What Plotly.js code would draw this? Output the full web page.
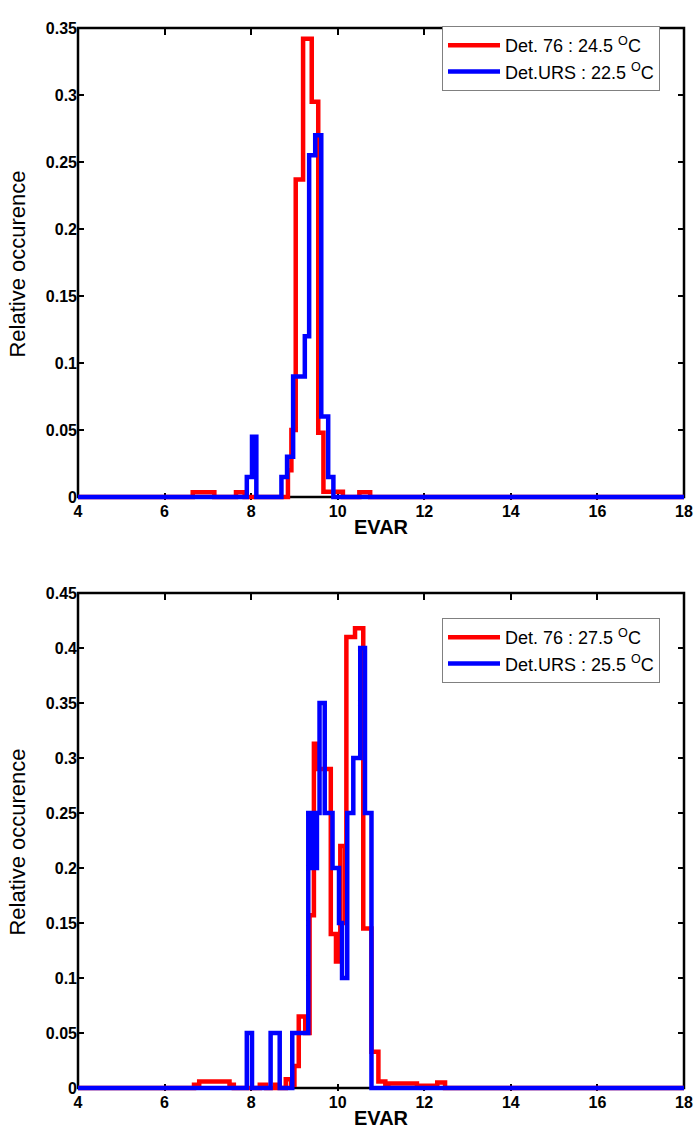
<!DOCTYPE html>
<html>
<head>
<meta charset="utf-8">
<script src="https://cdn.plot.ly/plotly-3.0.1.min.js"></script>
<style>
html,body{margin:0;padding:0;background:#ffffff;}
#chart{width:696px;height:1138px;}
</style>
</head>
<body>
<div id="chart"></div>
<script>
// ---------- data (bin edges and relative occurrence per bin) ----------
// Top panel
const top76Edges  = [4, 6.65, 7.15, 7.65, 7.85, 8.85, 8.93, 9.03, 9.2, 9.4, 9.55, 9.67, 10.12, 10.5, 10.75, 18];
const top76Values = [0, 0.0035, 0, 0.0035, 0, 0.02, 0.05, 0.237, 0.342, 0.295, 0.048, 0.004, 0, 0.0035, 0];

const topURSEdges  = [4, 7.9, 8.02, 8.12, 8.7, 8.83, 8.97, 9.24, 9.34, 9.48, 9.62, 9.78, 9.9, 18];
const topURSValues = [0, 0.015, 0.045, 0, 0.015, 0.03, 0.09, 0.12, 0.255, 0.27, 0.06, 0.015, 0];

// Bottom panel
const bot76Edges  = [4, 6.68, 6.8, 7.5, 7.6, 8.2, 8.35, 8.55, 8.65, 8.8, 8.92, 9.0, 9.1, 9.25, 9.35, 9.45, 9.55, 9.84, 9.96, 10.06, 10.17, 10.2, 10.4, 10.59, 10.78, 10.94, 11.1, 11.17, 11.83, 12.3, 12.48, 18];
const bot76Values = [0, 0.003, 0.006, 0.003, 0, 0.003, 0, 0.003, 0, 0.008, 0.003, 0.02, 0.065, 0.05, 0.157, 0.313, 0.29, 0.14, 0.115, 0.22, 0.15, 0.41, 0.418, 0.145, 0.033, 0.006, 0.002, 0.004, 0.002, 0.005, 0];

const botURSEdges  = [4, 7.9, 8.02, 8.45, 8.66, 8.95, 9.32, 9.37, 9.42, 9.47, 9.52, 9.58, 9.7, 9.88, 10.03, 10.1, 10.22, 10.36, 10.52, 10.63, 10.78, 18];
const botURSValues = [0, 0.05, 0, 0.05, 0, 0.05, 0.25, 0.2, 0.25, 0.2, 0.25, 0.35, 0.25, 0.2, 0.15, 0.1, 0.25, 0.3, 0.4, 0.25, 0];

// ticks and labels
const xTickVals   = [4, 6, 8, 10, 12, 14, 16, 18];
const xTickText   = ['4', '6', '8', '10', '12', '14', '16', '18'];
const yTopTickVals = [0, 0.05, 0.1, 0.15, 0.2, 0.25, 0.3, 0.35];
const yTopTickText = ['0', '0.05', '0.1', '0.15', '0.2', '0.25', '0.3', '0.35'];
const yBotTickVals = [0, 0.05, 0.1, 0.15, 0.2, 0.25, 0.3, 0.35, 0.4, 0.45];
const yBotTickText = ['0', '0.05', '0.1', '0.15', '0.2', '0.25', '0.3', '0.35', '0.4', '0.45'];

const topNames = ['Det. 76 : 24.5 <sup>O</sup>C', 'Det.URS : 22.5 <sup>O</sup>C'];
const botNames = ['Det. 76 : 27.5 <sup>O</sup>C', 'Det.URS : 25.5 <sup>O</sup>C'];
const xTitle = 'EVAR';
const yTitle = 'Relative occurence';

// ---------- build ----------
const RED = '#ff0000', BLUE = '#0000ff';
const FONT = 'Liberation Sans, Arial, Helvetica, sans-serif';

function stepTrace(edges, values, name, color, xa, ya, legend) {
  return {
    type: 'scatter', mode: 'lines',
    x: edges,
    y: values.concat([values[values.length - 1]]),
    line: {shape: 'hv', color: color, width: 4.5},
    name: name, xaxis: xa, yaxis: ya, legend: legend,
    hoverinfo: 'skip'
  };
}

const traces = [
  stepTrace(top76Edges, top76Values, topNames[0], RED, 'x', 'y', 'legend'),
  stepTrace(topURSEdges, topURSValues, topNames[1], BLUE, 'x', 'y', 'legend'),
  stepTrace(bot76Edges, bot76Values, botNames[0], RED, 'x2', 'y2', 'legend2'),
  stepTrace(botURSEdges, botURSValues, botNames[1], BLUE, 'x2', 'y2', 'legend2')
];

const W = 696, H = 1138, mt = 28, mb = 47, ml = 78, mr = 12;
const plotH = H - mt - mb;
function dom(pxTop, pxBot) { return [(H - mb - pxBot) / plotH, (H - mb - pxTop) / plotH]; }
const topDom = dom(28, 500), botDom = dom(593, 1091);
const topRange = [-0.00224, 0.35], botRange = [-0.00273, 0.45];

function zeroY(d, r) { return d[0] + (0 - r[0]) / (r[1] - r[0]) * (d[1] - d[0]); }

function xAxis(anchor) {
  return {
    anchor: anchor, domain: [0, 1], range: [4, 18],
    showline: false, zeroline: false, showgrid: false,
    ticks: 'inside', ticklen: 7, tickwidth: 2, tickcolor: '#000', mirror: 'ticks',
    tickvals: xTickVals, ticktext: xTickText,
    tickfont: {family: FONT, size: 16, color: '#000', weight: 'bold'},
    title: {text: xTitle, font: {family: FONT, size: 20, color: '#000', weight: 'bold'}, standoff: 0},
    layer: 'below traces', fixedrange: true
  };
}
function yAxis(anchor, d, r, tv, tt) {
  return {
    anchor: anchor, domain: d, range: r,
    showline: false, zeroline: false, showgrid: false,
    ticks: 'inside', ticklen: 6, tickwidth: 2, tickcolor: '#000', mirror: 'ticks',
    tickvals: tv, ticktext: tt,
    tickfont: {family: FONT, size: 16, color: '#000', weight: 'bold'},
    title: {text: yTitle, font: {family: FONT, size: 22, color: '#000'}, standoff: 14},
    layer: 'below traces', fixedrange: true
  };
}
function box(d, r) {
  return {
    type: 'rect', xref: 'paper', yref: 'paper',
    x0: 0, x1: 1, y0: zeroY(d, r), y1: d[1],
    line: {color: '#000', width: 2.5}, fillcolor: 'rgba(0,0,0,0)', layer: 'below'
  };
}
function legendCfg(yTop) {
  return {
    x: (660 - ml) / (W - ml - mr), xanchor: 'right',
    y: yTop, yanchor: 'top',
    bgcolor: '#ffffff', bordercolor: '#808080', borderwidth: 1,
    font: {family: FONT, size: 18, color: '#000'},
    tracegroupgap: 0, itemwidth: 52
  };
}

const layout = {
  width: W, height: H,
  margin: {l: ml, r: mr, t: mt, b: mb},
  paper_bgcolor: '#ffffff', plot_bgcolor: 'rgba(0,0,0,0)',
  showlegend: true,
  xaxis: xAxis('y'),
  yaxis: yAxis('x', topDom, topRange, yTopTickVals, yTopTickText),
  xaxis2: xAxis('y2'),
  yaxis2: yAxis('x2', botDom, botRange, yBotTickVals, yBotTickText),
  legend: legendCfg((H - mb - 26) / plotH),
  legend2: legendCfg((H - mb - 618) / plotH),
  shapes: [box(topDom, topRange), box(botDom, botRange)]
};

Plotly.newPlot('chart', traces, layout, {displayModeBar: false, staticPlot: true});
</script>
</body>
</html>
